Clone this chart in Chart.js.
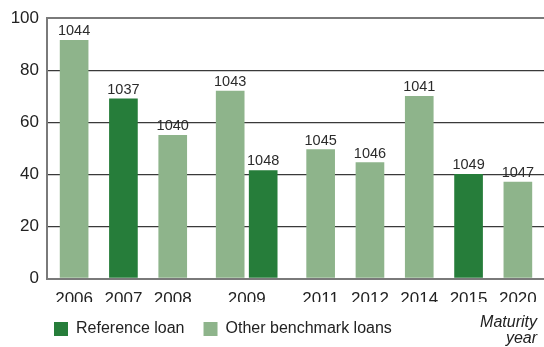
<!DOCTYPE html>
<html>
<head>
<meta charset="utf-8">
<script src="https://cdn.jsdelivr.net/npm/chart.js@4/dist/chart.umd.min.js"></script>
<style>
  html, body { margin: 0; padding: 0; background: #ffffff; }
  #wrap { width: 544px; height: 347px; }
</style>
</head>
<body>
<div id="wrap"><canvas id="chart" width="544" height="347"></canvas></div>
<script>
// Maturity years on the horizontal axis
const categories = ['2006', '2007', '2008', '2009', '2011', '2012', '2014', '2015', '2020'];
// Bar heights (null where a year has no loan of that kind)
const referenceLoan = [null, 69, null, 41.5, null, null, null, 40, null];
const otherLoans = [91.5, null, 55, 72, 49.5, 44.5, 70, null, 37];
// Loan numbers printed above each bar
const referenceIds = [null, '1037', null, '1048', null, null, null, '1049', null];
const otherIds = ['1044', null, '1040', '1043', '1045', '1046', '1041', null, '1047'];
// Vertical axis ticks
const yTicks = [0, 20, 40, 60, 80, 100];
const seriesNames = ['Reference loan', 'Other benchmark loans'];
const axisCaption = ['Maturity', 'year'];

const FONT = '"Liberation Sans", Arial, sans-serif';
const DARK = '#267d3a';
const LIGHT = '#8eb48b';

// Each year gets as much room as it has bars; its centre is where its label goes.
const positions = [];
let span = 0;
categories.forEach((_, i) => {
  const n = [referenceLoan[i], otherLoans[i]].filter(v => v !== null).length;
  positions.push(span + n / 2);
  span += n;
});

const loanLabels = {
  id: 'loanLabels',
  afterDatasetsDraw(chart) {
    const ctx = chart.ctx;
    ctx.save();
    ctx.font = '14.5px ' + FONT;
    ctx.fillStyle = '#2b2b2b';
    ctx.textAlign = 'center';
    ctx.textBaseline = 'alphabetic';
    chart.data.datasets.forEach((ds, di) => {
      chart.getDatasetMeta(di).data.forEach((bar, i) => {
        const id = ds.loanIds[i];
        if (id) ctx.fillText(id, bar.x, bar.y - 5);
      });
    });
    ctx.restore();
  }
};

// Legend sits indented under the plot rather than flush with the canvas edge
const legendIndent = {
  id: 'legendIndent',
  afterLayout(chart) {
    if (chart.legend) chart.legend.left += 23;
  }
};

const axisCaptionText = {
  id: 'axisCaptionText',
  afterDraw(chart) {
    const ctx = chart.ctx;
    ctx.save();
    ctx.font = 'italic 16px ' + FONT;
    ctx.fillStyle = '#222222';
    ctx.textAlign = 'right';
    ctx.textBaseline = 'alphabetic';
    ctx.fillText(axisCaption[0], 537, 327);
    ctx.fillText(axisCaption[1], 537, 343);
    ctx.restore();
  }
};

new Chart(document.getElementById('chart'), {
  type: 'bar',
  data: {
    datasets: [
      {
        label: seriesNames[1],
        data: positions.map((x, i) => ({ x, y: otherLoans[i] })),
        loanIds: otherIds,
        backgroundColor: LIGHT,
        borderWidth: 0
      },
      {
        label: seriesNames[0],
        data: positions.map((x, i) => ({ x, y: referenceLoan[i] })),
        loanIds: referenceIds,
        backgroundColor: DARK,
        borderWidth: 0
      }
    ]
  },
  options: {
    responsive: false,
    animation: false,
    layout: { padding: { left: 12, top: 16, right: 0, bottom: 0 } },
    datasets: {
      bar: { barThickness: 33, maxBarThickness: 28, skipNull: true }
    },
    scales: {
      x: {
        type: 'linear',
        offset: false,
        min: -0.05,
        max: span + 0.03,
        afterBuildTicks(scale) {
          scale.ticks = positions.map(v => ({ value: v }));
        },
        afterFit(scale) {
          // plot runs to the right edge; tick labels fit inside it
          scale.height = 23.5;
          scale.paddingLeft = 0;
          scale.paddingRight = 0;
        },
        ticks: {
          autoSkip: false,
          maxRotation: 0,
          padding: 11,
          color: '#222222',
          font: { family: FONT, size: 17 },
          callback: (v, i) => categories[i]
        },
        grid: { display: false, drawTicks: false, offset: false },
        border: { display: true, color: '#7a7a7a', width: 2 }
      },
      y: {
        min: 0,
        max: 100,
        afterBuildTicks(scale) {
          scale.ticks = yTicks.map(v => ({ value: v }));
        },
        afterFit(scale) { scale.width = 35; },
        ticks: {
          padding: 8,
          color: '#222222',
          font: { family: FONT, size: 17 }
        },
        grid: {
          drawTicks: false,
          color: ctx => (ctx.tick.value === 0 || ctx.tick.value === 100) ? '#7a7a7a' : '#3a3a3a',
          lineWidth: ctx => (ctx.tick.value === 0 || ctx.tick.value === 100) ? 2 : 1.2
        },
        border: { display: true, color: '#7a7a7a', width: 2 }
      }
    },
    plugins: {
      legend: {
        position: 'bottom',
        align: 'start',
        labels: {
          boxWidth: 14,
          boxHeight: 14,
          padding: 19,
          color: '#222222',
          font: { family: FONT, size: 16 },
          sort: (a, b) => b.datasetIndex - a.datasetIndex
        }
      },
      tooltip: { enabled: false }
    }
  },
  plugins: [loanLabels, legendIndent, axisCaptionText]
});
</script>
</body>
</html>
